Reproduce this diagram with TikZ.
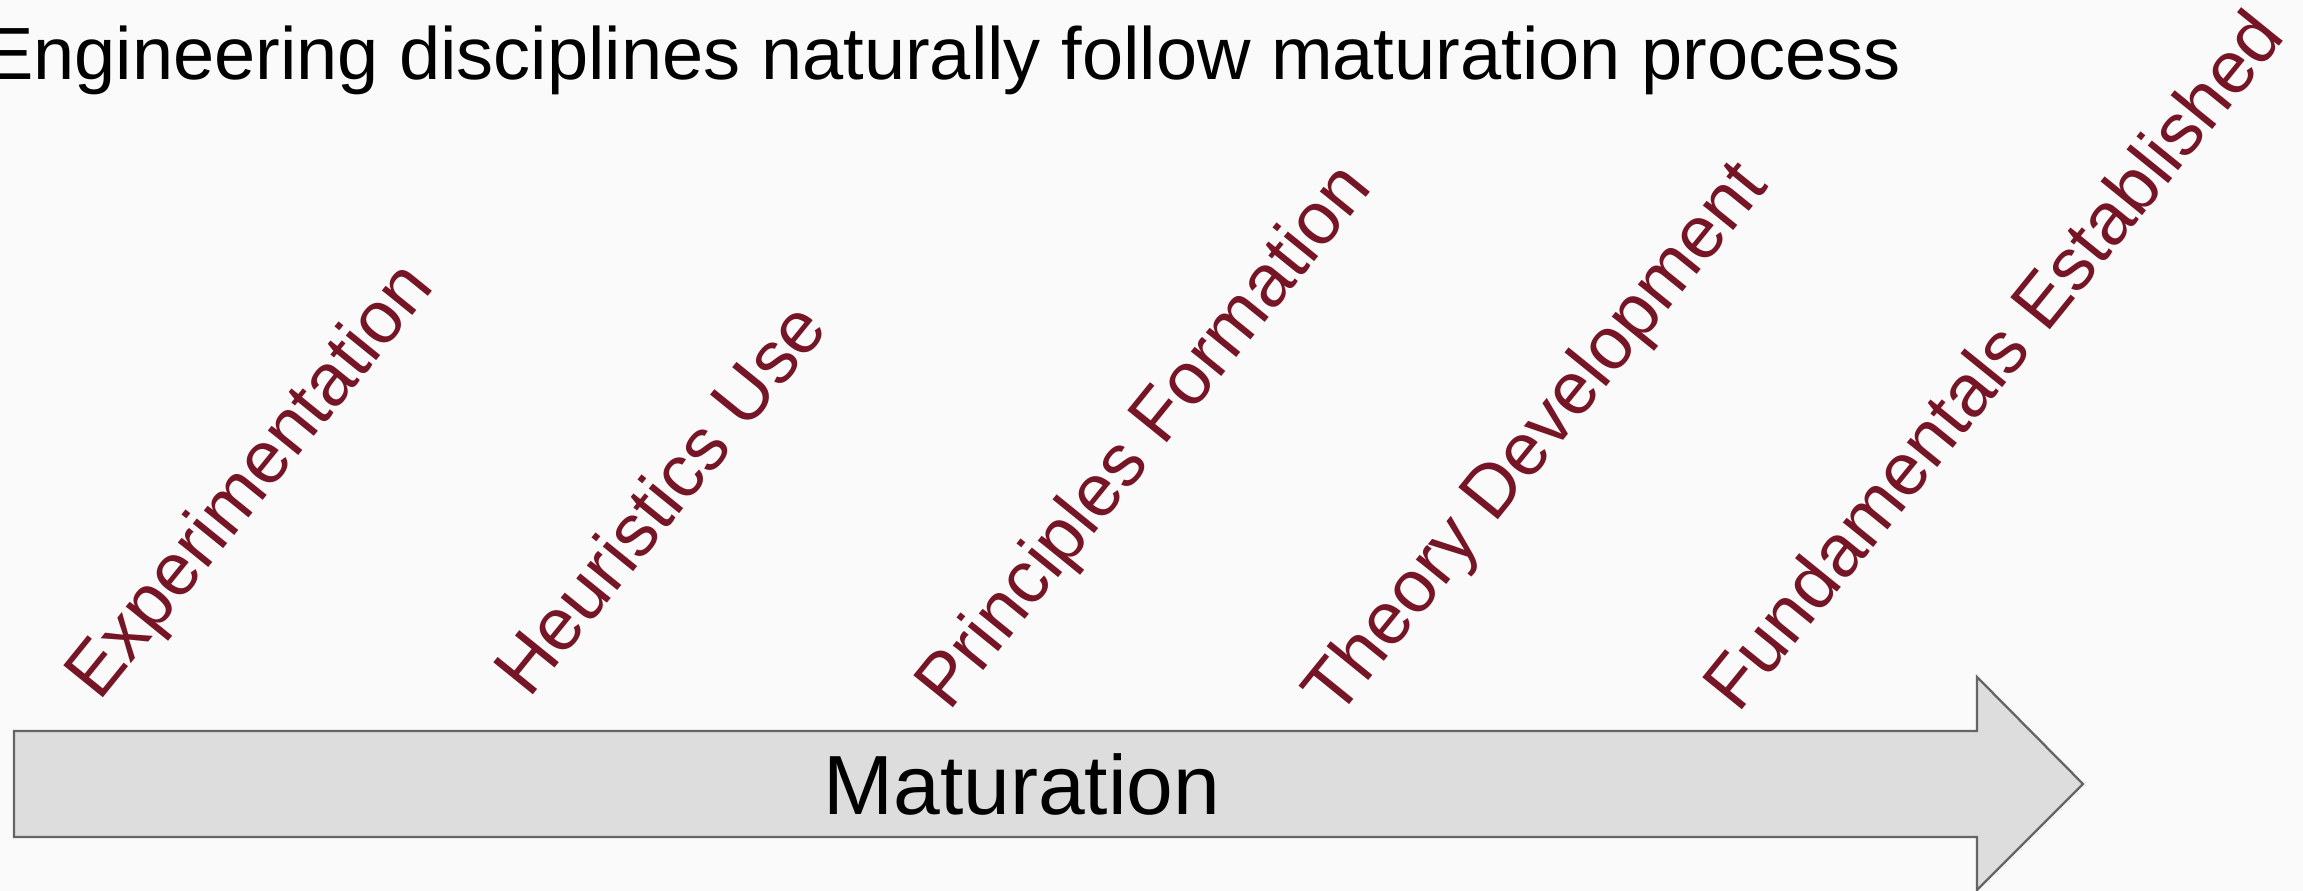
\documentclass[tikz,border=0pt]{standalone}
\usepackage{fontspec}
\setmainfont{Liberation Sans}
\usepackage{xcolor}
\usepackage{tikz}
\usetikzlibrary{positioning}
\definecolor{stagered}{RGB}{118,21,37}
\definecolor{slidebg}{RGB}{250,250,250}
\definecolor{arrowfill}{RGB}{221,221,221}
\definecolor{arrowline}{RGB}{101,101,101}
\tikzstyle{heading} = [anchor=base east, inner sep=0pt, font=\fontsize{74}{88}\selectfont]
\tikzstyle{stage} = [rotate=51, anchor=base west, inner sep=0pt, text=stagered, font=\fontsize{74}{88}\selectfont]

\begin{document}
\begin{tikzpicture}[
    x=1pt, y=1pt,
    bigarrow/.style={fill=arrowfill, draw=arrowline, line width=2.3pt, line join=miter},
    arrowtext/.style={anchor=base, inner sep=0pt, font=\fontsize{84}{100}\selectfont}
]
    \useasboundingbox [fill=slidebg] (0,0) rectangle (2303,891);

    % Title
    \node [heading] (title) at (1901,811) {Engineering disciplines naturally follow maturation process};

    % Maturation arrow
    \draw [bigarrow] (14,54) -- (14,160) -- (1977,160) -- (1977,214) -- (2083,107) -- (1977,1) -- (1977,54) -- cycle;
    \node [arrowtext] (matur) at (1022,76) {Maturation};

    % Stages
    \node [stage] (exper) at (99,188) {Experimentation};
    \node [stage] (heur) at (529,191) {Heuristics Use};
    \node [stage] (princ) at (949,178) {Principles Formation};
    \node [stage] (theory) at (1337,171) {Theory Development};
    \node [stage] (fund) at (1738,176) {Fundamentals Established};
\end{tikzpicture}
\end{document}
